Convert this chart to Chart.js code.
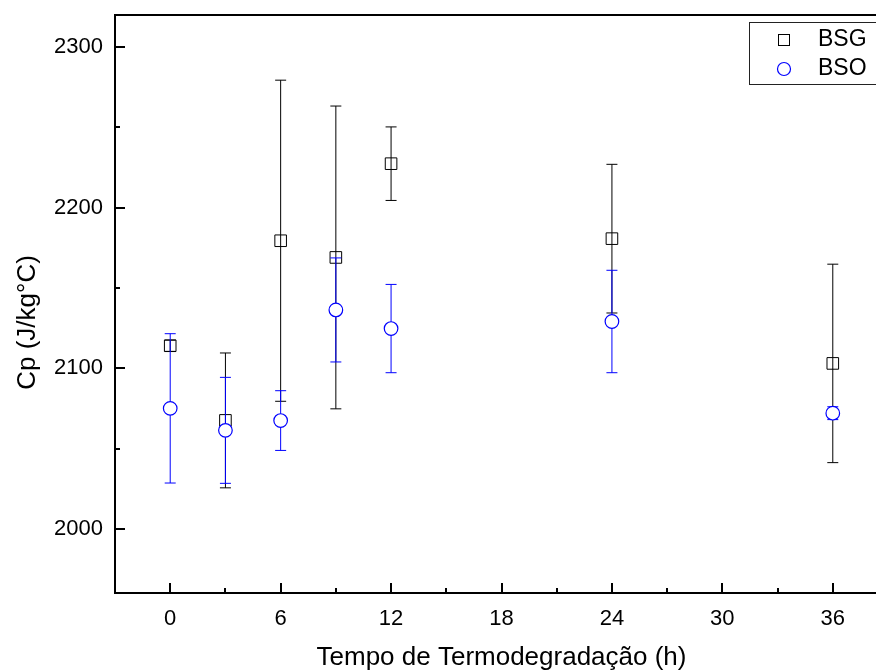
<!DOCTYPE html>
<html><head><meta charset="utf-8">
<script src="https://cdn.jsdelivr.net/npm/chart.js@4/dist/chart.umd.min.js"></script>
<style>html,body{margin:0;padding:0;background:#fff;overflow:hidden;} #wrap{width:900px;height:671px;}</style>
</head><body><div id="wrap"><canvas id="c" width="900" height="671"></canvas></div>
<script>
const hours = [0, 3, 6, 9, 12, 24, 36];
const bsgValues = [2114, 2067.5, 2179.4, 2169, 2227.4, 2180.7, 2103];
const bsgErrors = [3.5, 42, 100, 94.3, 22.9, 46.3, 61.8];
const bsoValues = [2075, 2061.3, 2067.4, 2136.3, 2124.7, 2129.1, 2072];
const bsoErrors = [46.5, 33, 18.6, 32.4, 27.5, 31.9, 4];
const xTicks = [0, 6, 12, 18, 24, 30, 36];
const xMinorTicks = [3, 9, 15, 21, 27, 33];
const yTicks = [2000, 2100, 2200, 2300];
const yMinorTicks = [2050, 2150, 2250];
const seriesLabels = ['BSG', 'BSO'];
const xTitle = 'Tempo de Termodegradação (h)';
const yTitle = 'Cp (J/kg°C)';

const FAMILY = '"Liberation Sans", Arial, Helvetica, sans-serif';

const errorBars = {
  id: 'errorBars',
  beforeDatasetDraw(chart, args) {
    const ds = chart.data.datasets[args.index];
    if (!ds.errors) return;
    const ctx = chart.ctx, xs = chart.scales.x, ys = chart.scales.y;
    ctx.save();
    ctx.strokeStyle = ds.errorColor;
    ctx.lineWidth = 1;
    ds.data.forEach((p, i) => {
      const e = ds.errors[i];
      const x = xs.getPixelForValue(p.x);
      const yt = ys.getPixelForValue(p.y + e);
      const yb = ys.getPixelForValue(p.y - e);
      ctx.beginPath();
      ctx.moveTo(x, yt); ctx.lineTo(x, yb);
      ctx.moveTo(x - 5.5, yt); ctx.lineTo(x + 5.5, yt);
      ctx.moveTo(x - 5.5, yb); ctx.lineTo(x + 5.5, yb);
      ctx.stroke();
    });
    ctx.restore();
  }
};

const frame = {
  id: 'frame',
  afterDraw(chart) {
    const ctx = chart.ctx, xs = chart.scales.x, ys = chart.scales.y;
    const a = chart.chartArea;
    ctx.save();
    ctx.strokeStyle = '#000';
    ctx.lineWidth = 2;
    ctx.beginPath();
    ctx.moveTo(a.left - 1, a.top); ctx.lineTo(a.right + 1, a.top);
    ctx.moveTo(a.right, a.top); ctx.lineTo(a.right, a.bottom);
    xTicks.forEach(v => { const x = Math.round(xs.getPixelForValue(v)); ctx.moveTo(x, a.bottom); ctx.lineTo(x, a.bottom - 10); });
    xMinorTicks.forEach(v => { const x = Math.round(xs.getPixelForValue(v)); ctx.moveTo(x, a.bottom); ctx.lineTo(x, a.bottom - 5); });
    yTicks.forEach(v => { const y = Math.round(ys.getPixelForValue(v)); ctx.moveTo(a.left, y); ctx.lineTo(a.left + 10, y); });
    yMinorTicks.forEach(v => { const y = Math.round(ys.getPixelForValue(v)); ctx.moveTo(a.left, y); ctx.lineTo(a.left + 5, y); });
    ctx.stroke();

    ctx.fillStyle = '#000';
    ctx.font = '26px ' + FAMILY;
    ctx.textAlign = 'center';
    ctx.textBaseline = 'middle';
    ctx.save();
    ctx.translate(28, 322.5);
    ctx.rotate(-Math.PI / 2);
    ctx.fillText(yTitle, 0, 0);
    ctx.restore();

    ctx.lineWidth = 1;
    ctx.strokeStyle = '#222';
    ctx.strokeRect(749.5, 22.5, 136, 62);
    const ds = chart.data.datasets;
    ctx.strokeStyle = ds[0].borderColor;
    ctx.lineWidth = 1;
    ctx.strokeRect(778.5, 34.5, 11, 11);
    ctx.strokeStyle = ds[1].borderColor;
    ctx.lineWidth = 1.2;
    ctx.beginPath(); ctx.arc(784, 69, 6.5, 0, Math.PI * 2); ctx.stroke();
    ctx.fillStyle = '#000';
    ctx.font = '23px ' + FAMILY;
    ctx.textAlign = 'left';
    ctx.fillText(ds[0].label, 818, 40);
    ctx.fillText(ds[1].label, 818, 69);
    ctx.restore();
  }
};

function zeroPad(s) { s.paddingTop = 0; s.paddingBottom = 0; s.paddingLeft = 0; s.paddingRight = 0; }

new Chart(document.getElementById('c'), {
  type: 'scatter',
  data: {
    datasets: [
      {
        label: seriesLabels[0],
        data: hours.map((h, i) => ({ x: h, y: bsgValues[i] })),
        errors: bsgErrors,
        errorColor: '#000',
        pointStyle: 'rect',
        pointRadius: 8.2,
        borderColor: '#000',
        backgroundColor: 'rgba(255,255,255,0)',
        borderWidth: 1,
        order: 1
      },
      {
        label: seriesLabels[1],
        data: hours.map((h, i) => ({ x: h, y: bsoValues[i] })),
        errors: bsoErrors,
        errorColor: '#0000ff',
        pointStyle: 'circle',
        pointRadius: 6.8,
        borderColor: '#0000ff',
        backgroundColor: '#fff',
        borderWidth: 1.2,
        order: 0
      }
    ]
  },
  options: {
    responsive: false,
    animation: false,
    devicePixelRatio: 1,
    events: [],
    layout: { padding: { left: 0, top: 15, right: 12, bottom: 0 } },
    plugins: { legend: { display: false }, tooltip: { enabled: false } },
    scales: {
      x: {
        type: 'linear', min: -3, max: 39,
        afterBuildTicks: s => { s.ticks = xTicks.map(v => ({ value: v })); },
        afterFit: s => { s.height = 78; zeroPad(s); },
        grid: { display: false, drawTicks: false },
        border: { display: true, color: '#000', width: 2 },
        ticks: { color: '#000', font: { family: FAMILY, size: 22 }, padding: 13, maxRotation: 0, autoSkip: false, callback: v => String(v) },
        title: { display: true, text: xTitle, color: '#000', font: { family: FAMILY, size: 26 }, padding: { top: 0, bottom: -2 } }
      },
      y: {
        type: 'linear', min: 1960, max: 2320,
        afterBuildTicks: s => { s.ticks = yTicks.map(v => ({ value: v })); },
        afterFit: s => { s.width = 115; zeroPad(s); },
        grid: { display: false, drawTicks: false },
        border: { display: true, color: '#000', width: 2 },
        ticks: { color: '#000', font: { family: FAMILY, size: 22 }, padding: 12, autoSkip: false, callback: v => String(v) }
      }
    }
  },
  plugins: [errorBars, frame]
});
</script>
</body></html>
